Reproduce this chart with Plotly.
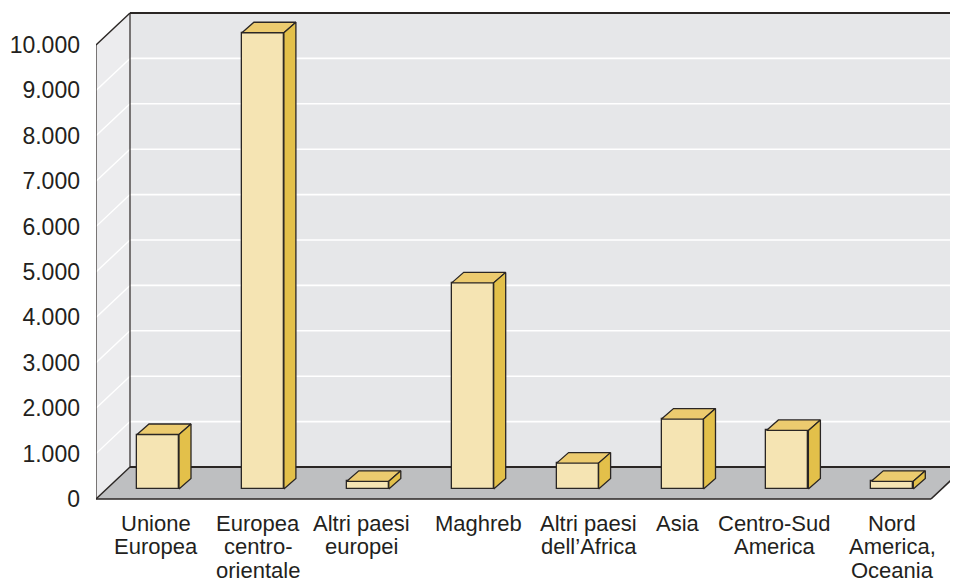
import plotly.graph_objects as go

# ---------------- data ----------------
label_lines = [
    ["Unione", "Europea"],
    ["Europea", "centro-", "orientale"],
    ["Altri paesi", "europei"],
    ["Maghreb"],
    ["Altri paesi", "dell\u2019Africa"],
    ["Asia"],
    ["Centro-Sud", "America"],
    ["Nord", "America,", "Oceania"],
]
values = [1200, 10050, 170, 4540, 570, 1540, 1290, 170]
y_ticks = list(range(0, 10001, 1000))
y_top = 10000

# ---------------- geometry (layout only) ----------------
OFF = 8                                 # page body margin
W, H = 958 - OFF, 580 - OFF
PL, PR, PT, PB = 96 - OFF, 958 - OFF, 10 - OFF, 501 - OFF   # plot area in px
Y0PX = 499 - OFF                        # px of value 0 on the front plane
S = 0.0454                              # px per value unit
X0PX = 158 - OFF                        # px of first category (front face centre)
XU = 104.9                              # px per category
yr = [-(PB - Y0PX) / S, (Y0PX - PT) / S]
xr = [(PL - X0PX) / XU, (PR - X0PX) / XU]
DX, DY = 34 / XU, 32 / S                # full depth of the box
fl_xl = xr[0]
fl_xr = (931 - OFF - X0PX) / XU
bar_base = 10 / S
bar_half = 21 / XU
bdx, bdy = 12 / XU, 10.5 / S

TXT = "#231f20"
EDGE = "#2a2624"
BACK = "#e6e7e9"
SIDE = "#ececee"
FLOOR = "#bebfc1"
FRONT = "#f5e4b3"
TOP = "#eccb6f"
RSIDE = "#e3c04a"
FONT = "Liberation Sans, Arial, Helvetica, sans-serif"


def path(pts):
    return "M " + " L ".join(f"{x},{y}" for x, y in pts) + " Z"


shapes = []
bx0 = fl_xl + DX
# back wall
shapes.append(dict(type="path", xref="x", yref="y", layer="below", line=dict(width=0),
                   fillcolor=BACK,
                   path=path([(bx0, DY), (xr[1] + 1, DY), (xr[1] + 1, DY + y_top), (bx0, DY + y_top)])))
# side wall
shapes.append(dict(type="path", xref="x", yref="y", layer="below", line=dict(width=0),
                   fillcolor=SIDE,
                   path=path([(fl_xl, 0), (bx0, DY), (bx0, DY + y_top), (fl_xl, y_top)])))
# floor
shapes.append(dict(type="path", xref="x", yref="y", layer="below", line=dict(width=0),
                   fillcolor=FLOOR,
                   path=path([(fl_xl, 0), (fl_xr, 0), (fl_xr + DX, DY), (bx0, DY)])))
# gridlines
for t in y_ticks[1:-1]:
    shapes.append(dict(type="line", xref="x", yref="y", layer="below",
                       x0=bx0, x1=xr[1] + 1, y0=DY + t, y1=DY + t,
                       line=dict(color="white", width=1.6)))
    shapes.append(dict(type="line", xref="x", yref="y", layer="below",
                       x0=fl_xl, x1=bx0, y0=t, y1=DY + t,
                       line=dict(color="white", width=1.4)))


def edge(x0, y0, x1, y1, w=1.4):
    shapes.append(dict(type="line", xref="x", yref="y", layer="below",
                       x0=x0, y0=y0, x1=x1, y1=y1, line=dict(color=EDGE, width=w)))


edge(fl_xl, 0, fl_xl, y_top, 1.2)
edge(fl_xl, y_top, bx0, DY + y_top, 1.4)
edge(bx0, DY + y_top, xr[1] + 1, DY + y_top, 2.0)
edge(bx0, DY, bx0, DY + y_top, 1.2)
edge(bx0, DY, xr[1] + 1, DY, 2.0)
edge(fl_xl, 0, bx0, DY, 1.4)
edge(fl_xl, 0, fl_xr, 0, 1.6)
edge(fl_xr, 0, fl_xr + DX, DY, 1.6)

fig = go.Figure()
xs = list(range(len(values)))
fig.add_trace(go.Bar(x=xs, y=values, base=bar_base, width=2 * bar_half,
                     marker=dict(color=FRONT, line=dict(color=EDGE, width=1.3)),
                     hoverinfo="skip", showlegend=False))

tx, ty, sx, sy = [], [], [], []
for i, v in zip(xs, values):
    b, t = bar_base, bar_base + v
    for (px, py) in [(i - bar_half, t), (i + bar_half, t), (i + bar_half + bdx, t + bdy),
                     (i - bar_half + bdx, t + bdy), (i - bar_half, t)]:
        tx.append(px); ty.append(py)
    tx.append(None); ty.append(None)
    for (px, py) in [(i + bar_half, b), (i + bar_half + bdx, b + bdy), (i + bar_half + bdx, t + bdy),
                     (i + bar_half, t), (i + bar_half, b)]:
        sx.append(px); sy.append(py)
    sx.append(None); sy.append(None)

fig.add_trace(go.Scatter(x=tx, y=ty, mode="lines", fill="toself", fillcolor=TOP,
                         line=dict(color=EDGE, width=1.3), hoverinfo="skip", showlegend=False))
fig.add_trace(go.Scatter(x=sx, y=sy, mode="lines", fill="toself", fillcolor=RSIDE,
                         line=dict(color=EDGE, width=1.3), hoverinfo="skip", showlegend=False))

# category labels (one annotation per line for tight line spacing)
label_nudge_px = [-2, -5, -6.5, 6, 11, -4.5, -12.5, 0]
annotations = []
for i, lines in enumerate(label_lines):
    for k, line in enumerate(lines):
        annotations.append(dict(x=i + label_nudge_px[i] / XU, y=0, xref="x", yref="y",
                                text=line, showarrow=False, xanchor="center", yanchor="middle",
                                yshift=-(24 + k * 23.5),
                                font=dict(family=FONT, size=22, color=TXT)))

fig.update_layout(
    width=W, height=H,
    margin=dict(l=PL, r=W - PR, t=PT, b=H - PB, pad=0),
    paper_bgcolor="white", plot_bgcolor="white",
    separators=",.",
    shapes=shapes, annotations=annotations,
    font=dict(family=FONT, color=TXT),
    xaxis=dict(range=xr, showgrid=False, zeroline=False, showline=False,
               showticklabels=False, ticks="", fixedrange=True),
    yaxis=dict(range=yr, tickvals=y_ticks, tickformat=",d", showgrid=False, zeroline=False,
               showline=False, ticks="", ticklabelstandoff=15,
               tickfont=dict(family=FONT, size=23, color=TXT), fixedrange=True),
    bargap=0,
)

fig.write_html("out.html")
